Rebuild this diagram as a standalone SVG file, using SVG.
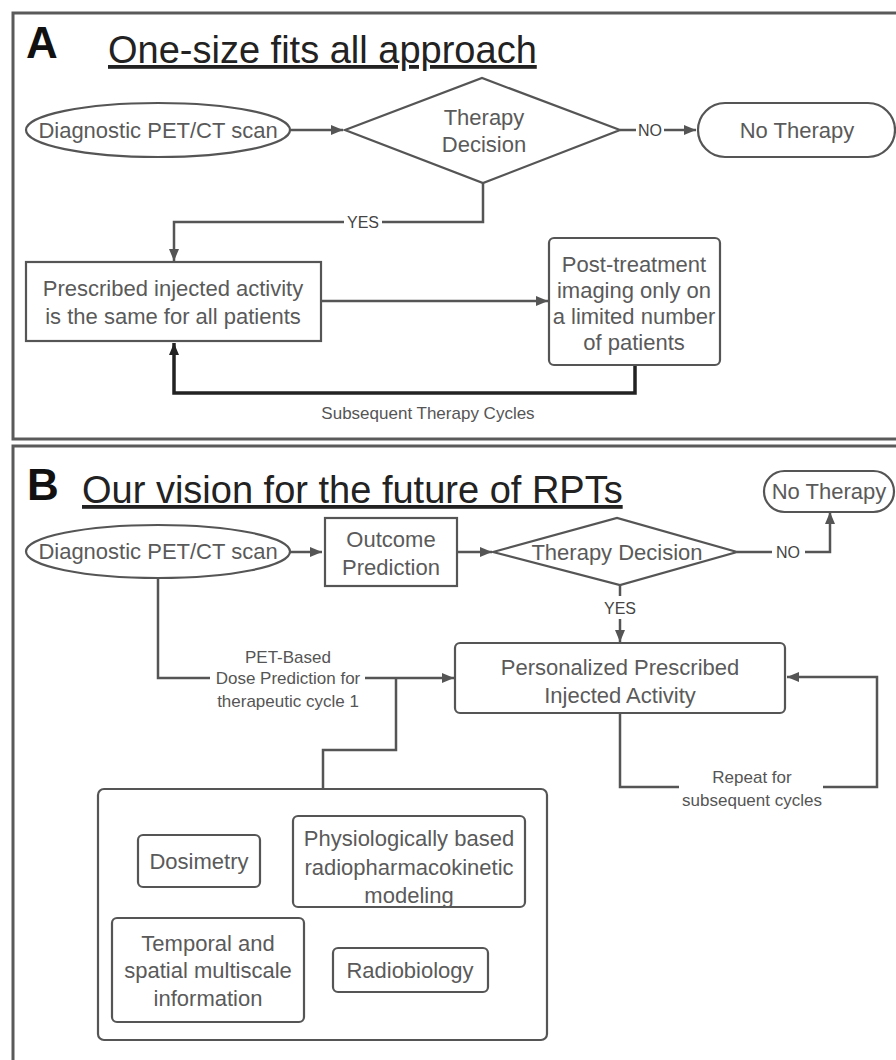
<svg xmlns="http://www.w3.org/2000/svg" width="896" height="1060" viewBox="0 0 896 1060">
<style>
  .frame{fill:none;stroke:#5a5a5a;stroke-width:3}
  .node{fill:#fff;stroke:#555;stroke-width:2.2}
  .nt{font-family:"Liberation Sans",Arial,sans-serif;font-size:22px;fill:#5a5a5a;text-anchor:middle}
  .lbl{font-family:"Liberation Sans",Arial,sans-serif;font-size:17px;fill:#555;text-anchor:middle}
  .yn{font-family:"Liberation Sans",Arial,sans-serif;font-size:16px;fill:#444;text-anchor:middle}
  .title{font-family:"Liberation Sans",Arial,sans-serif;font-size:38px;fill:#222;text-decoration:underline}
  .letter{font-family:"Liberation Sans",Arial,sans-serif;font-size:44px;font-weight:bold;fill:#111}
  .conn{fill:none;stroke:#555;stroke-width:2.5}
  .thick{fill:none;stroke:#222;stroke-width:3.5}
</style>
<defs>
  <marker id="arr" markerUnits="userSpaceOnUse" markerWidth="13" markerHeight="10" refX="12" refY="5" orient="auto">
    <path d="M0,0 L12,5 L0,10 z" fill="#555"/>
  </marker>
  <marker id="arrk" markerUnits="userSpaceOnUse" markerWidth="13" markerHeight="10" refX="12" refY="5" orient="auto">
    <path d="M0,0 L12,5 L0,10 z" fill="#222"/>
  </marker>
</defs>
<rect width="896" height="1060" fill="#fff"/>

<g id="panelA">
  <rect class="frame" x="13" y="13" width="890" height="426"/>
  <text class="letter" x="26" y="58">A</text>
  <text class="title" x="108" y="63">One-size fits all approach</text>
</g>
<g id="panelB">
  <rect class="frame" x="13" y="446" width="890" height="630"/>
  <text class="letter" x="27" y="500">B</text>
  <text class="title" x="82" y="503">Our vision for the future of RPTs</text>
</g>

<g id="connectors">
  <path class="conn" d="M290,130 H343" marker-end="url(#arr)"/>
  <path class="conn" d="M620,130 H636"/>
  <path class="conn" d="M664,130 H696" marker-end="url(#arr)"/>
  <path class="conn" d="M483,183 V222 H382"/>
  <path class="conn" d="M344,222 H174 V261" marker-end="url(#arr)"/>
  <path class="conn" d="M321,301 H548" marker-end="url(#arr)"/>
  <path class="thick" d="M635,365 V393 H174 V343" marker-end="url(#arrk)"/>

  <path class="conn" d="M290,552 H322" marker-end="url(#arr)"/>
  <path class="conn" d="M457,552 H492" marker-end="url(#arr)"/>
  <path class="conn" d="M737,552 H772"/>
  <path class="conn" d="M805,552 H830 V512" marker-end="url(#arr)"/>
  <path class="conn" d="M620,585 V596"/>
  <path class="conn" d="M620,619 V642" marker-end="url(#arr)"/>
  <path class="conn" d="M158,578 V678 H210"/>
  <path class="conn" d="M365,678 H454" marker-end="url(#arr)"/>
  <path class="conn" d="M323,789 V750 H396 V678"/>
  <path class="conn" d="M620,713 V787 H679"/>
  <path class="conn" d="M823,787 H877 V677 H787" marker-end="url(#arr)"/>

  <text class="yn" x="363" y="228">YES</text>
  <text class="yn" x="650" y="136">NO</text>
  <text class="lbl" x="428" y="419">Subsequent Therapy Cycles</text>
  <text class="yn" x="788" y="558">NO</text>
  <text class="yn" x="620" y="614">YES</text>
  <text class="lbl" x="288" y="663">PET-Based</text>
  <text class="lbl" x="288" y="684">Dose Prediction for</text>
  <text class="lbl" x="288" y="707">therapeutic cycle 1</text>
  <text class="lbl" x="752" y="783">Repeat for</text>
  <text class="lbl" x="752" y="806">subsequent cycles</text>
</g>

<g id="a_diag">
  <ellipse class="node" cx="158" cy="130" rx="132" ry="27"/>
  <text class="nt" x="158" y="138">Diagnostic PET/CT scan</text>
</g>
<g id="a_decision">
  <polygon class="node" points="345,130 482,78 620,130 483,183"/>
  <text class="nt" x="484" y="125">Therapy</text>
  <text class="nt" x="484" y="152">Decision</text>
</g>
<g id="a_notherapy">
  <rect class="node" x="698" y="103" width="197" height="54" rx="27"/>
  <text class="nt" x="797" y="138">No Therapy</text>
</g>
<g id="a_prescribed">
  <rect class="node" x="26" y="262" width="295" height="79"/>
  <text class="nt" x="173" y="296">Prescribed injected activity</text>
  <text class="nt" x="173" y="324">is the same for all patients</text>
</g>
<g id="a_post">
  <rect class="node" x="549" y="238" width="171" height="127" rx="5"/>
  <text class="nt" x="634" y="272">Post-treatment</text>
  <text class="nt" x="634" y="298">imaging only on</text>
  <text class="nt" x="634" y="324">a limited number</text>
  <text class="nt" x="634" y="350">of patients</text>
</g>

<g id="b_diag">
  <ellipse class="node" cx="158" cy="551.5" rx="132" ry="26.5"/>
  <text class="nt" x="158" y="559">Diagnostic PET/CT scan</text>
</g>
<g id="b_outcome">
  <rect class="node" x="325" y="518" width="132" height="68"/>
  <text class="nt" x="391" y="547">Outcome</text>
  <text class="nt" x="391" y="575">Prediction</text>
</g>
<g id="b_decision">
  <polygon class="node" points="493,552 617,518 737,552 620,585"/>
  <text class="nt" x="617" y="560">Therapy Decision</text>
</g>
<g id="b_notherapy">
  <rect class="node" x="764" y="471" width="130" height="41" rx="20.5"/>
  <text class="nt" x="829" y="499">No Therapy</text>
</g>
<g id="b_personalized">
  <rect class="node" x="455" y="643" width="330" height="70" rx="5"/>
  <text class="nt" x="620" y="675">Personalized Prescribed</text>
  <text class="nt" x="620" y="703">Injected Activity</text>
</g>
<g id="b_container">
  <rect class="node" x="98" y="789" width="449" height="251" rx="6"/>
</g>
<g id="b_dosimetry">
  <rect class="node" x="138" y="835" width="122" height="52" rx="5"/>
  <text class="nt" x="199" y="869">Dosimetry</text>
</g>
<g id="b_physio">
  <rect class="node" x="293" y="816" width="232" height="91" rx="5"/>
  <text class="nt" x="409" y="846">Physiologically based</text>
  <text class="nt" x="409" y="875">radiopharmacokinetic</text>
  <text class="nt" x="409" y="903">modeling</text>
</g>
<g id="b_temporal">
  <rect class="node" x="112" y="918" width="192" height="104" rx="5"/>
  <text class="nt" x="208" y="951">Temporal and</text>
  <text class="nt" x="208" y="978">spatial multiscale</text>
  <text class="nt" x="208" y="1006">information</text>
</g>
<g id="b_radiobiology">
  <rect class="node" x="333" y="948" width="155" height="44" rx="5"/>
  <text class="nt" x="410" y="978">Radiobiology</text>
</g>
</svg>
